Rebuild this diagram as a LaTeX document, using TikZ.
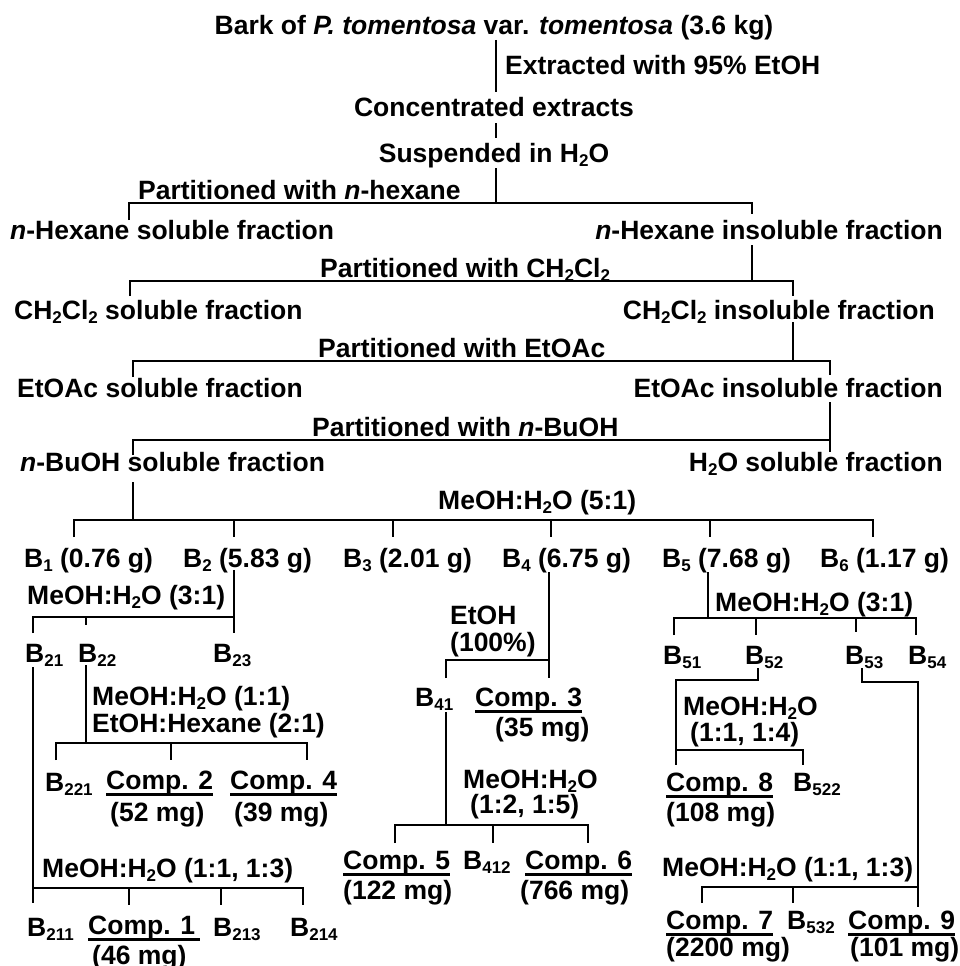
\documentclass[tikz,border=0pt]{standalone}
\usepackage{fontspec}
\setmainfont{Liberation Sans}
\newsavebox\ulbox
\newcommand\sbs[1]{\raisebox{-4pt}{\fontsize{17}{17}\selectfont #1}}
\newcommand\ul[1]{\sbox\ulbox{#1}\rlap{\rule[-6pt]{\wd\ulbox}{2.6pt}}\usebox\ulbox}
\newcommand\lbfont{\fontsize{26.5}{28}\selectfont\bfseries}
\newcommand\twolines[3]{\vtop{\baselineskip=#1\lineskiplimit=-100pt\lineskip=0pt\hbox{#2}\hbox{#3}}}
\tikzset{
  lbl/.style={inner sep=0pt, text height=19pt, text depth=0pt, font=\lbfont, anchor=west},
  lbr/.style={lbl, anchor=east},
  lbc/.style={lbl, anchor=center},
  lbtwo/.style={inner sep=0pt, font=\lbfont, anchor=base west},
  ln/.style={line width=2.6pt, black}
}
\begin{document}
\begin{tikzpicture}[x=1pt, y=-1pt]
\useasboundingbox (0,0) rectangle (959,966);
% ---- text nodes ----
\node[lbc] (t0) at (494,25) {Bark of \textit{P. tomentosa} var. \textit{tomentosa} (3.6 kg)};
\node[lbl] (ext) at (505,65) {Extracted with 95\% EtOH};
\node[lbc] (conc) at (494,107) {Concentrated extracts};
\node[lbc] (susp) at (494,153) {Suspended in H\sbs{2}O};
\node[lbl] (ph) at (138,190) {Partitioned with \textit{n}-hexane};
\node[lbl] (hs) at (10,230) {\textit{n}-Hexane soluble fraction};
\node[lbr] (hi) at (943,230) {\textit{n}-Hexane insoluble fraction};
\node[lbl] (pc) at (320,268) {Partitioned with CH\sbs{2}Cl\sbs{2}};
\node[lbl] (cs) at (14,310) {CH\sbs{2}Cl\sbs{2} soluble fraction};
\node[lbr] (ci) at (935,310) {CH\sbs{2}Cl\sbs{2} insoluble fraction};
\node[lbl] (pe) at (318,348) {Partitioned with EtOAc};
\node[lbl] (es) at (17,388) {EtOAc soluble fraction};
\node[lbr] (ei) at (943,388) {EtOAc insoluble fraction};
\node[lbl] (pb) at (312,427) {Partitioned with \textit{n}-BuOH};
\node[lbl] (bs) at (20,462) {\textit{n}-BuOH soluble fraction};
\node[lbr] (ws) at (943,462) {H\sbs{2}O soluble fraction};
\node[lbl] (m51) at (438,500) {MeOH:H\sbs{2}O (5:1)};
\node[lbl] (b1) at (24,558) {B\sbs{1} (0.76 g)};
\node[lbl] (b2) at (183,558) {B\sbs{2} (5.83 g)};
\node[lbl] (b3) at (343,558) {B\sbs{3} (2.01 g)};
\node[lbl] (b4) at (502,558) {B\sbs{4} (6.75 g)};
\node[lbl] (b5) at (662,558) {B\sbs{5} (7.68 g)};
\node[lbl] (b6) at (820,558) {B\sbs{6} (1.17 g)};
% B2 branch
\node[lbl] (m31) at (27,595) {MeOH:H\sbs{2}O (3:1)};
\node[lbl] (b21) at (25,653) {B\sbs{21}};
\node[lbl] (b22) at (78,653) {B\sbs{22}};
\node[lbl] (b23) at (213,653) {B\sbs{23}};
\node[lbtwo] (m11) at (92,705.5) {\twolines{27pt}{MeOH:H\sbs{2}O (1:1)}{EtOH:Hexane (2:1)}};
\node[lbl] (b221) at (45,782) {B\sbs{221}};
\node[lbl] (c2) at (106,780) {\ul{Comp. 2}};
\node[lbl] (c2m) at (110,812) {(52 mg)};
\node[lbl] (c4) at (230,780) {\ul{Comp. 4}};
\node[lbl] (c4m) at (234,812) {(39 mg)};
\node[lbl] (m113) at (42,868) {MeOH:H\sbs{2}O (1:1, 1:3)};
\node[lbl] (b211) at (27,927) {B\sbs{211}};
\node[lbl] (c1) at (88,925) {\ul{Comp. 1\,}};
\node[lbl] (c1m) at (92,955) {(46 mg)};
\node[lbl] (b213) at (213,927) {B\sbs{213}};
\node[lbl] (b214) at (290,927) {B\sbs{214}};
% B4 branch
\node[lbtwo] (etoh) at (450,624.5) {\twolines{27pt}{EtOH}{(100\%)}};
\node[lbl] (b41) at (415,697) {B\sbs{41}};
\node[lbl] (c3) at (475,697) {\ul{Comp. 3}};
\node[lbl] (c3m) at (495,727) {(35 mg)};
\node[lbtwo] (m4) at (463,788.5) {\twolines{25pt}{MeOH:H\sbs{2}O}{\hspace{7pt}(1:2, 1:5)}};
\node[lbl] (c5) at (343,860) {\ul{Comp. 5}};
\node[lbl] (c5m) at (343,890) {(122 mg)};
\node[lbl] (b412) at (463,860) {B\sbs{412}};
\node[lbl] (c6) at (525,860) {\ul{Comp. 6}};
\node[lbl] (c6m) at (520,890) {(766 mg)};
% B5 branch
\node[lbl] (m5) at (715,602) {MeOH:H\sbs{2}O (3:1)};
\node[lbl] (b51) at (663,655) {B\sbs{51}};
\node[lbl] (b52) at (745,655) {B\sbs{52}};
\node[lbl] (b53) at (845,655) {B\sbs{53}};
\node[lbl] (b54) at (908,655) {B\sbs{54}};
\node[lbtwo] (m52) at (683,715.5) {\twolines{26pt}{MeOH:H\sbs{2}O}{\hspace{7pt}(1:1, 1:4)}};
\node[lbl] (c8) at (666,782) {\ul{Comp. 8}};
\node[lbl] (c8m) at (666,812) {(108 mg)};
\node[lbl] (b522) at (793,782) {B\sbs{522}};
\node[lbl] (m53) at (662,867) {MeOH:H\sbs{2}O (1:1, 1:3)};
\node[lbl] (c7) at (666,920) {\ul{Comp. 7}};
\node[lbl] (c7m) at (666,947) {(2200 mg)};
\node[lbl] (b532) at (787,920) {B\sbs{532}};
\node[lbl] (c9) at (848,920) {\ul{Comp. 9}};
\node[lbl] (c9m) at (850,947) {(101 mg)};
% ---- junction coordinates ----
\coordinate (a1) at (496,40);  \coordinate (a2) at (496,92);
\coordinate (a3) at (496,123); \coordinate (a4) at (496,138);
\coordinate (a5) at (496,168); \coordinate (a6) at (496,203);
\coordinate (h1l) at (129,203); \coordinate (h1r) at (752,203);
\coordinate (h1a) at (129,220); \coordinate (h1b) at (752,214);
\coordinate (v2a) at (752,245); \coordinate (h2r) at (752,281);
\coordinate (h2l) at (130,281); \coordinate (h2e) at (793,281);
\coordinate (h2a) at (130,296); \coordinate (h2b) at (793,296);
\coordinate (v3a) at (793,322); \coordinate (h3r) at (793,361);
\coordinate (h3l) at (133,361); \coordinate (h3e) at (830,361);
\coordinate (h3a) at (133,377); \coordinate (h3b) at (830,375);
\coordinate (v4a) at (830,402); \coordinate (h4r) at (830,440);
\coordinate (h4l) at (133,440);
\coordinate (h4a) at (133,455); \coordinate (h4b) at (830,452);
\coordinate (v5a) at (133,482); \coordinate (v5b) at (133,520);
\coordinate (h5l) at (74,520); \coordinate (h5r) at (873,520);
% B2
\coordinate (v6a) at (234,570); \coordinate (v6b) at (234,633); \coordinate (h6r) at (234,617);
\coordinate (h6l) at (33,617); \coordinate (h6a) at (33,633);
\coordinate (t22a) at (86,617); \coordinate (t22b) at (86,625);
\coordinate (v21a) at (33,667); \coordinate (v21b) at (33,903);
\coordinate (h8l) at (33,888); \coordinate (h8r) at (303,888); \coordinate (h8b) at (303,905);
\coordinate (v22a) at (86,665); \coordinate (v22b) at (86,743);
\coordinate (h7l) at (56,743); \coordinate (h7r) at (307,743);
\coordinate (h7a) at (56,760); \coordinate (h7b) at (307,760);
% B4
\coordinate (v9a) at (549,572); \coordinate (v9b) at (549,678); \coordinate (h9r) at (549,660);
\coordinate (h9l) at (446,660); \coordinate (h9a) at (446,678);
\coordinate (v10a) at (446,712); \coordinate (v10b) at (446,825);
\coordinate (h10l) at (395,825); \coordinate (h10r) at (588,825);
\coordinate (h10a) at (395,843); \coordinate (h10b) at (588,843);
% B5
\coordinate (v11a) at (708,572); \coordinate (v11b) at (708,618);
\coordinate (h11l) at (674,618); \coordinate (h11r) at (916,618);
\coordinate (h11a) at (674,635); \coordinate (h11b) at (916,635);
\coordinate (v12a) at (758,668); \coordinate (v12b) at (758,680);
\coordinate (h12l) at (676,680); \coordinate (v12c) at (676,765);
\coordinate (h13l) at (676,750); \coordinate (h13r) at (803,750); \coordinate (h13b) at (803,765);
\coordinate (v14a) at (862,668); \coordinate (v14b) at (862,682);
\coordinate (h14r) at (918,682); \coordinate (v14c) at (918,907);
\coordinate (h15l) at (702,887); \coordinate (h15r) at (918,887); \coordinate (h15a) at (702,903);
% ---- connectors ----
\begin{scope}[ln]
\draw (a1) -- (a2);
\draw (a3) -- (a4);
\draw (a5) -- (a6);
\draw (h1a) -- (h1l) -- (h1r) -- (h1b);
\draw (v2a) -- (h2r);
\draw (h2a) -- (h2l) -- (h2e) -- (h2b);
\draw (v3a) -- (h3r);
\draw (h3a) -- (h3l) -- (h3e) -- (h3b);
\draw (v4a) -- (h4r);
\draw (h4a) -- (h4l) -- (h4r) -- (h4b);
\draw (v5a) -- (v5b);
\draw (h5l) ++(0,17) -- (h5l) -- (h5r) -- ++(0,17);
\foreach \x in {234,393,551,710} \draw (\x,520) -- (\x,537);
\draw (v6a) -- (v6b);
\draw (h6a) -- (h6l) -- (h6r);
\draw (t22a) -- (t22b);
\draw (v21a) -- (v21b);
\draw (h8l) -- (h8r) -- (h8b);
\foreach \x in {129,221} \draw (\x,888) -- (\x,905);
\draw (v22a) -- (v22b);
\draw (h7a) -- (h7l) -- (h7r) -- (h7b);
\draw (171,743) -- (171,760);
\draw (v9a) -- (v9b);
\draw (h9a) -- (h9l) -- (h9r);
\draw (v10a) -- (v10b);
\draw (h10a) -- (h10l) -- (h10r) -- (h10b);
\draw (493,825) -- (493,843);
\draw (v11a) -- (v11b);
\draw (h11a) -- (h11l) -- (h11r) -- (h11b);
\draw (756,618) -- (756,635);
\draw (856,618) -- (856,632);
\draw (v12a) -- (v12b) -- (h12l) -- (v12c);
\draw (h13l) -- (h13r) -- (h13b);
\draw (v14a) -- (v14b) -- (h14r) -- (v14c);
\draw (h15a) -- (h15l) -- (h15r);
\draw (793,887) -- (793,903);
\end{scope}
\end{tikzpicture}
\end{document}
